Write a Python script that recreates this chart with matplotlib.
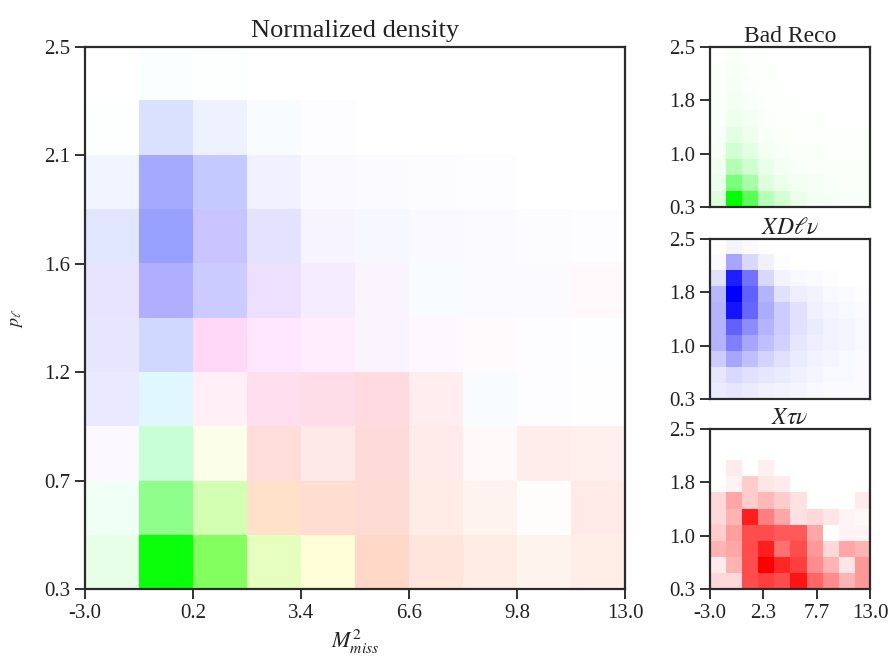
import numpy as np
import matplotlib
matplotlib.use("Agg")
import matplotlib.pyplot as plt
from matplotlib.colors import LinearSegmentedColormap

plt.rcParams['font.family'] = ['Liberation Serif', 'DejaVu Serif']
plt.rcParams['mathtext.fontset'] = 'stix'

# binning: 10 x 10 cells, M2miss in [-3, 13], p_l in [0.3, 2.5]
x_range = (-3.0, 13.0)
y_range = (0.3, 2.5)

# per-component densities (rows: p_l bins from low to high, cols: M2miss bins)
bad_reco = np.array([
    [0.13, 1.00, 0.66, 0.28, 0.17, 0.08, 0.05, 0.04, 0.03, 0.03],
    [0.08, 0.52, 0.35, 0.13, 0.08, 0.05, 0.04, 0.03, 0.02, 0.02],
    [0.06, 0.30, 0.19, 0.09, 0.05, 0.03, 0.02, 0.02, 0.02, 0.02],
    [0.04, 0.18, 0.12, 0.05, 0.03, 0.02, 0.02, 0.01, 0.01, 0.01],
    [0.03, 0.11, 0.07, 0.03, 0.02, 0.01, 0.01, 0.01, 0.01, 0.01],
    [0.02, 0.07, 0.05, 0.02, 0.01, 0.01, 0.01, 0.00, 0.00, 0.00],
    [0.02, 0.05, 0.03, 0.015, 0.01, 0.00, 0.00, 0.00, 0.00, 0.00],
    [0.01, 0.04, 0.02, 0.01, 0.00, 0.00, 0.00, 0.00, 0.00, 0.00],
    [0.01, 0.03, 0.015, 0.01, 0.00, 0.00, 0.00, 0.00, 0.00, 0.00],
    [0.00, 0.02, 0.01, 0.00, 0.00, 0.00, 0.00, 0.00, 0.00, 0.00],
])

xdlnu = np.array([
    [0.08, 0.10, 0.08, 0.06, 0.05, 0.04, 0.03, 0.02, 0.02, 0.02],
    [0.10, 0.15, 0.12, 0.10, 0.08, 0.06, 0.04, 0.03, 0.03, 0.02],
    [0.20, 0.35, 0.25, 0.17, 0.12, 0.08, 0.05, 0.04, 0.03, 0.02],
    [0.30, 0.50, 0.35, 0.25, 0.18, 0.10, 0.07, 0.05, 0.04, 0.03],
    [0.30, 0.62, 0.45, 0.30, 0.20, 0.12, 0.08, 0.05, 0.04, 0.03],
    [0.30, 0.92, 0.60, 0.33, 0.20, 0.12, 0.06, 0.04, 0.03, 0.02],
    [0.28, 1.00, 0.62, 0.30, 0.12, 0.07, 0.05, 0.03, 0.02, 0.01],
    [0.12, 0.88, 0.55, 0.15, 0.05, 0.03, 0.02, 0.01, 0.00, 0.00],
    [0.02, 0.35, 0.15, 0.06, 0.01, 0.00, 0.00, 0.00, 0.00, 0.00],
    [0.00, 0.04, 0.02, 0.00, 0.00, 0.00, 0.00, 0.00, 0.00, 0.00],
])

xtaunu = np.array([
    [0.15, 0.15, 0.70, 0.75, 0.70, 0.92, 0.60, 0.45, 0.30, 0.40],
    [0.08, 0.30, 0.70, 1.00, 0.85, 0.75, 0.45, 0.30, 0.10, 0.40],
    [0.30, 0.35, 0.70, 0.88, 0.55, 0.70, 0.40, 0.15, 0.35, 0.30],
    [0.20, 0.38, 0.70, 0.70, 0.65, 0.65, 0.35, 0.00, 0.05, 0.05],
    [0.15, 0.30, 0.88, 0.50, 0.35, 0.12, 0.15, 0.10, 0.05, 0.03],
    [0.15, 0.35, 0.20, 0.28, 0.20, 0.12, 0.00, 0.00, 0.00, 0.08],
    [0.00, 0.05, 0.20, 0.10, 0.08, 0.00, 0.00, 0.00, 0.00, 0.00],
    [0.00, 0.08, 0.00, 0.06, 0.00, 0.00, 0.00, 0.00, 0.00, 0.00],
    [0.00, 0.00, 0.00, 0.00, 0.00, 0.00, 0.00, 0.00, 0.00, 0.00],
    [0.00, 0.00, 0.00, 0.00, 0.00, 0.00, 0.00, 0.00, 0.00, 0.00],
])

# relative yields used in the combined picture
yield_bad, yield_dlnu, yield_taunu = 1.0, 0.42, 0.25

# combined image: each component lights its own channel, then shifted to white
rgb = np.stack([yield_taunu * xtaunu, yield_bad * bad_reco, yield_dlnu * xdlnu], axis=-1)
combined = 1.0 - rgb.max(axis=-1, keepdims=True) + rgb
combined = np.clip(combined, 0, 1)

edge = '#2b2b2b'
fig = plt.figure(figsize=(8.88, 6.61), dpi=100)


def style(ax, nx, ny, xlabels=True):
    ax.set_xlim(*x_range)
    ax.set_ylim(*y_range)
    xt = np.linspace(*x_range, nx)
    yt = np.linspace(*y_range, ny)
    ax.set_yticks(yt)
    ax.set_yticklabels(['%.1f' % v for v in yt])
    if xlabels:
        ax.set_xticks(xt)
        ax.set_xticklabels(['%.1f' % v for v in xt])
    else:
        ax.set_xticks([])
    for s in ax.spines.values():
        s.set_color(edge)
        s.set_linewidth(1.6)
    ax.tick_params(colors='#222222', labelsize=15, length=7, width=1.3, direction='out')


ext = [x_range[0], x_range[1], y_range[0], y_range[1]]

ax = fig.add_axes([0.0957, 0.1089, 0.6081, 0.820])
ax.imshow(combined, origin='lower', extent=ext, aspect='auto', interpolation='nearest')
style(ax, 6, 6)
ax.set_title('Normalized density', fontsize=19, pad=7, color='#222222')
ax.set_xlabel(r'$M^2_{miss}$', fontsize=16, color='#222222', labelpad=4)
ax.set_ylabel(r'$p_\ell$', fontsize=13, color='#222222', labelpad=14)

panels = [
    (bad_reco, '#00ff00', 'Bad Reco', 0.6868, False),
    (xdlnu, '#0000ff', r'$XD\ell\nu$', 0.3964, False),
    (xtaunu, '#ff0000', r'$X\tau\nu$', 0.1089, True),
]
for dens, col, title, bottom, xl in panels:
    sax = fig.add_axes([0.7995, bottom, 0.1802, 0.2421])
    cmap = LinearSegmentedColormap.from_list('c', ['white', col])
    sax.imshow(dens, origin='lower', extent=ext, aspect='auto', cmap=cmap,
               vmin=0, vmax=dens.max(), interpolation='nearest')
    style(sax, 4, 4, xlabels=xl)
    sax.set_title(title, fontsize=17, pad=3, color='#222222')

fig.savefig('out.png', dpi=100)
